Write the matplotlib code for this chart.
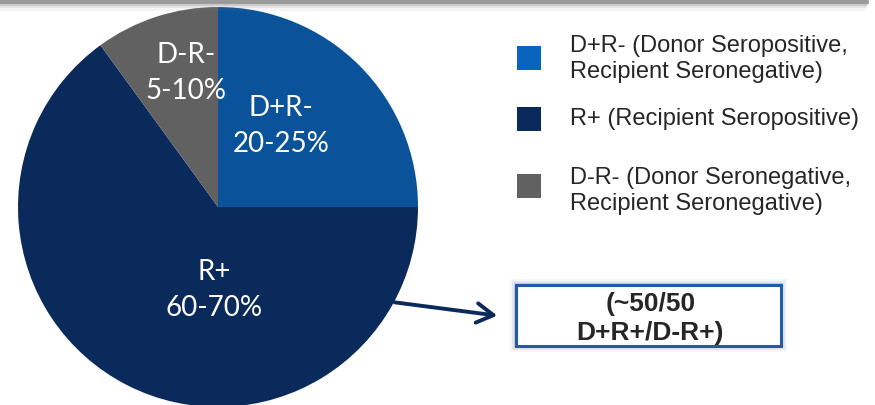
import matplotlib
matplotlib.use("Agg")
import matplotlib.pyplot as plt
from matplotlib.patches import Rectangle, FancyArrowPatch

W, H = 875, 406

categories = ["D+R-", "R+", "D-R-"]
values = [25, 65, 10]
slice_labels = ["D+R-\n20-25%", "R+\n60-70%", "D-R-\n5-10%"]
pie_colors = ["#0A5299", "#0B2A5C", "#616161"]
legend_colors = ["#0A63BF", "#0B2A5C", "#616161"]
legend_labels = ["D+R- (Donor Seropositive,\nRecipient Seronegative)",
                 "R+ (Recipient Seropositive)",
                 "D-R- (Donor Seronegative,\nRecipient Seronegative)"]
box_text = "(~50/50\nD+R+/D-R+)"

fig = plt.figure(figsize=(W / 100, H / 100), dpi=100)
ax = fig.add_axes([0, 0, 1, 1])

def Y(y):
    return H - y

cx, cy, r = 218, Y(208), 200
wedges, _ = ax.pie(values, colors=pie_colors, startangle=90, counterclock=False,
                   center=(cx, cy), radius=r, frame=True,
                   wedgeprops=dict(linewidth=0))
ax.set_xlim(0, W)
ax.set_ylim(0, H)
ax.axis("off")

# top band with shadow
for h, a in [(12, 0.08), (9, 0.15), (7, 0.3), (5, 0.75)]:
    ax.add_patch(Rectangle((0, Y(h)), 866 + (12 - h) * 0.5, h, color="#8c8c8c",
                           alpha=a, lw=0, zorder=1))

label_pos = [(281, 126), (214, 290), (186, 73)]
for (x, y), txt in zip(label_pos, slice_labels):
    ax.text(x, Y(y), txt, ha="center", va="center", color="white",
            fontsize=20, family="Lato", linespacing=1.45, zorder=5)

# legend
sq_y = [59, 120, 187]
txt_y = [59, 119, 191]
for c, lab, sy, ty in zip(legend_colors, legend_labels, sq_y, txt_y):
    ax.add_patch(Rectangle((517, Y(sy + 12)), 24, 24, color=c, lw=0, zorder=5))
    ax.text(570, Y(ty), lab, ha="left", va="center", color="#262626",
            fontsize=17, family="Liberation Sans", linespacing=1.18, zorder=5)

# box with glow
bx0, by0, bx1, by1 = 516, 286, 781, 347
for k, a in [(6, 0.05), (4, 0.1), (2, 0.2)]:
    ax.add_patch(Rectangle((bx0 - k, Y(by1 + k)), bx1 - bx0 + 2 * k, by1 - by0 + 2 * k,
                           facecolor="#4a5f80", edgecolor="none", alpha=a, zorder=3))
ax.add_patch(Rectangle((bx0, Y(by1)), bx1 - bx0, by1 - by0, facecolor="white",
                       edgecolor="#1F5BA8", lw=2.2, zorder=4))
ax.text((bx0 + bx1) / 2 + 2, Y((by0 + by1) / 2 + 2), box_text, ha="center", va="center",
        fontsize=19, fontweight="bold", family="Liberation Sans", color="#262626",
        linespacing=1.22, zorder=5)

# arrow
arr = FancyArrowPatch((392, Y(303)), (500, Y(317)), arrowstyle="->,head_length=12,head_width=7",
                      color="#0B2A5C", lw=2.8, mutation_scale=1, zorder=6)
ax.add_patch(arr)

fig.savefig("out.png", dpi=100)
